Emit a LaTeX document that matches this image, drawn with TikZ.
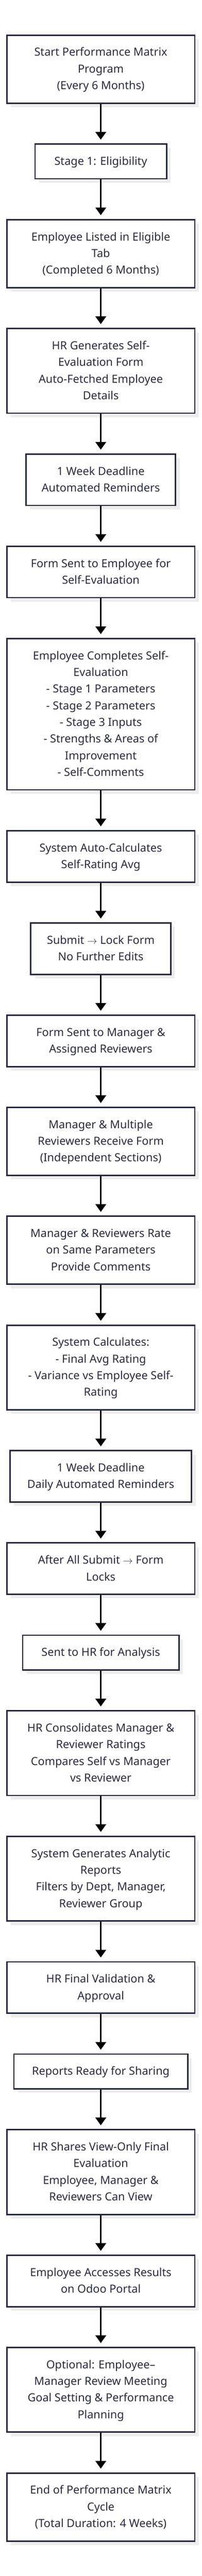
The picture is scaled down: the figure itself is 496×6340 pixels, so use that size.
\documentclass[tikz,border=0pt]{standalone}
\usepackage{fontspec}
\setmainfont{Noto Sans}
\usetikzlibrary{arrows.meta,positioning,shadows}
\definecolor{ink}{HTML}{2A2A3F}
\definecolor{shade}{HTML}{EDEDED}
\newcommand{\mystrut}{\rule[-11.5pt]{0pt}{41pt}}
\tikzset{
  box/.style={draw=ink, line width=3.6pt, fill=white, rectangle, outer sep=1.8pt,
    minimum width=462.4pt, inner xsep=4pt, inner ysep=22.2pt, align=center,
    text=ink, font=\fontsize{27.5pt}{41pt}\selectfont,
    drop shadow={shadow xshift=10pt, shadow yshift=-10pt, fill=shade, opacity=1}},
  arr/.style={line width=4pt, black, -{Triangle[width=26pt,length=19pt]}, shorten >=9pt},
}
\begin{document}
\begin{tikzpicture}[node distance=97pt]
\useasboundingbox (0,0) rectangle (496pt,-6340pt);
\node[box, anchor=north] (n1) at (248pt,-84.7pt) {\mystrut Start Performance Matrix\\\mystrut Program\\\mystrut (Every 6 Months)};
\node[box, minimum width=323.4pt, below=of n1] (n2) {\mystrut Stage 1: Eligibility};
\node[box, below=of n2] (n3) {\mystrut Employee Listed in Eligible\\\mystrut Tab\\\mystrut (Completed 6 Months)};
\node[box, below=of n3] (n4) {\mystrut HR Generates Self-\\\mystrut Evaluation Form\\\mystrut Auto-Fetched Employee\\\mystrut Details};
\node[box, minimum width=368.4pt, below=of n4] (n5) {\mystrut 1 Week Deadline\\\mystrut Automated Reminders};
\node[box, below=of n5] (n6) {\mystrut Form Sent to Employee for\\\mystrut Self-Evaluation};
\node[box, below=of n6] (n7) {\mystrut Employee Completes Self-\\\mystrut Evaluation\\\mystrut - Stage 1 Parameters\\\mystrut - Stage 2 Parameters\\\mystrut - Stage 3 Inputs\\\mystrut - Strengths \& Areas of\\\mystrut Improvement\\\mystrut - Self-Comments};
\node[box, below=of n7] (n8) {\mystrut System Auto-Calculates\\\mystrut Self-Rating Avg};
\node[box, minimum width=344.4pt, below=of n8] (n9) {\mystrut Submit $\rightarrow$ Lock Form\\\mystrut No Further Edits};
\node[box, below=of n9] (n10) {\mystrut Form Sent to Manager \&\\\mystrut Assigned Reviewers};
\node[box, below=of n10] (n11) {\mystrut Manager \& Multiple\\\mystrut Reviewers Receive Form\\\mystrut (Independent Sections)};
\node[box, below=of n11] (n12) {\mystrut Manager \& Reviewers Rate\\\mystrut on Same Parameters\\\mystrut Provide Comments};
\node[box, below=of n12] (n13) {\mystrut System Calculates:\\\mystrut - Final Avg Rating\\\mystrut - Variance vs Employee Self-\\\mystrut Rating};
\node[box, minimum width=446.4pt, below=of n13] (n14) {\mystrut 1 Week Deadline\\\mystrut Daily Automated Reminders};
\node[box, below=of n14] (n15) {\mystrut After All Submit $\rightarrow$ Form\\\mystrut Locks};
\node[box, minimum width=384.4pt, below=of n15] (n16) {\mystrut Sent to HR for Analysis};
\node[box, below=of n16] (n17) {\mystrut HR Consolidates Manager \&\\\mystrut Reviewer Ratings\\\mystrut Compares Self vs Manager\\\mystrut vs Reviewer};
\node[box, below=of n17] (n18) {\mystrut System Generates Analytic\\\mystrut Reports\\\mystrut Filters by Dept, Manager,\\\mystrut Reviewer Group};
\node[box, below=of n18] (n19) {\mystrut HR Final Validation \&\\\mystrut Approval};
\node[box, minimum width=427.4pt, below=of n19] (n20) {\mystrut Reports Ready for Sharing};
\node[box, below=of n20] (n21) {\mystrut HR Shares View-Only Final\\\mystrut Evaluation\\\mystrut Employee, Manager \&\\\mystrut Reviewers Can View};
\node[box, below=of n21] (n22) {\mystrut Employee Accesses Results\\\mystrut on Odoo Portal};
\node[box, below=of n22] (n23) {\mystrut Optional: Employee–\\\mystrut Manager Review Meeting\\\mystrut Goal Setting \& Performance\\\mystrut Planning};
\node[box, below=of n23] (n24) {\mystrut End of Performance Matrix\\\mystrut Cycle\\\mystrut (Total Duration: 4 Weeks)};
\foreach \a/\b in {n1/n2,n2/n3,n3/n4,n4/n5,n5/n6,n6/n7,n7/n8,n8/n9,n9/n10,n10/n11,n11/n12,n12/n13,n13/n14,n14/n15,n15/n16,n16/n17,n17/n18,n18/n19,n19/n20,n20/n21,n21/n22,n22/n23,n23/n24}
  \draw[arr] (\a.south) -- (\b.north);
\end{tikzpicture}
\end{document}
